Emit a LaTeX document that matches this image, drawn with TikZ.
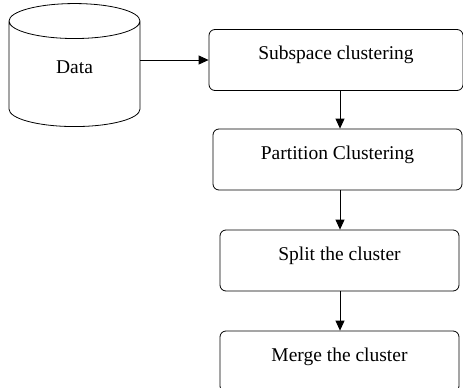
\documentclass[tikz,border=0pt]{standalone}
\usepackage{fontspec}
\setmainfont{Liberation Serif}
\usetikzlibrary{
    shapes.geometric,
    arrows.meta
}
\tikzset {
    step box/.style = {draw, thick, rounded corners = 6pt, inner sep = 0pt,
        text height = 30pt, text depth = 31pt, font = \fontsize{19.5}{22}\selectfont},
    data store/.style = {cylinder, draw, thick, shape border rotate = 90,
        aspect = 0.95, minimum width = 131pt, minimum height = 123pt,
        inner sep = 0pt, text height = 14pt, text depth = 16pt,
        font = \fontsize{19.5}{22}\selectfont},
    flow/.style = {thick, -{Triangle[length = 10pt, width = 9pt]}}
}

\begin{document}
\begin{tikzpicture}[x = 1pt, y = -1pt]
            \useasboundingbox (0, 0) rectangle (463, 388);
            \node (d) [data store] at (74.5, 74) {Data};
            \node (s1) [step box, minimum width = 254pt] at (336, 60) {Subspace clustering};
            \node (s2) [step box, minimum width = 249pt] at (337.5, 159.5) {Partition Clustering};
            \node (s3) [step box, minimum width = 239pt] at (339.5, 260.5) {Split the cluster};
            \node (s4) [step box, minimum width = 239pt] at (339.5, 361.5) {Merge the cluster};
            \draw [flow] (d.east |- s1.west) -- (s1.west);
            \draw [flow] (s1.south -| 340, 0) -- (s2.north -| 340, 0);
            \draw [flow] (s2.south -| 340, 0) -- (s3.north -| 340, 0);
            \draw [flow] (s3.south -| 340, 0) -- (s4.north -| 340, 0);
        \end{tikzpicture}
\end{document}
